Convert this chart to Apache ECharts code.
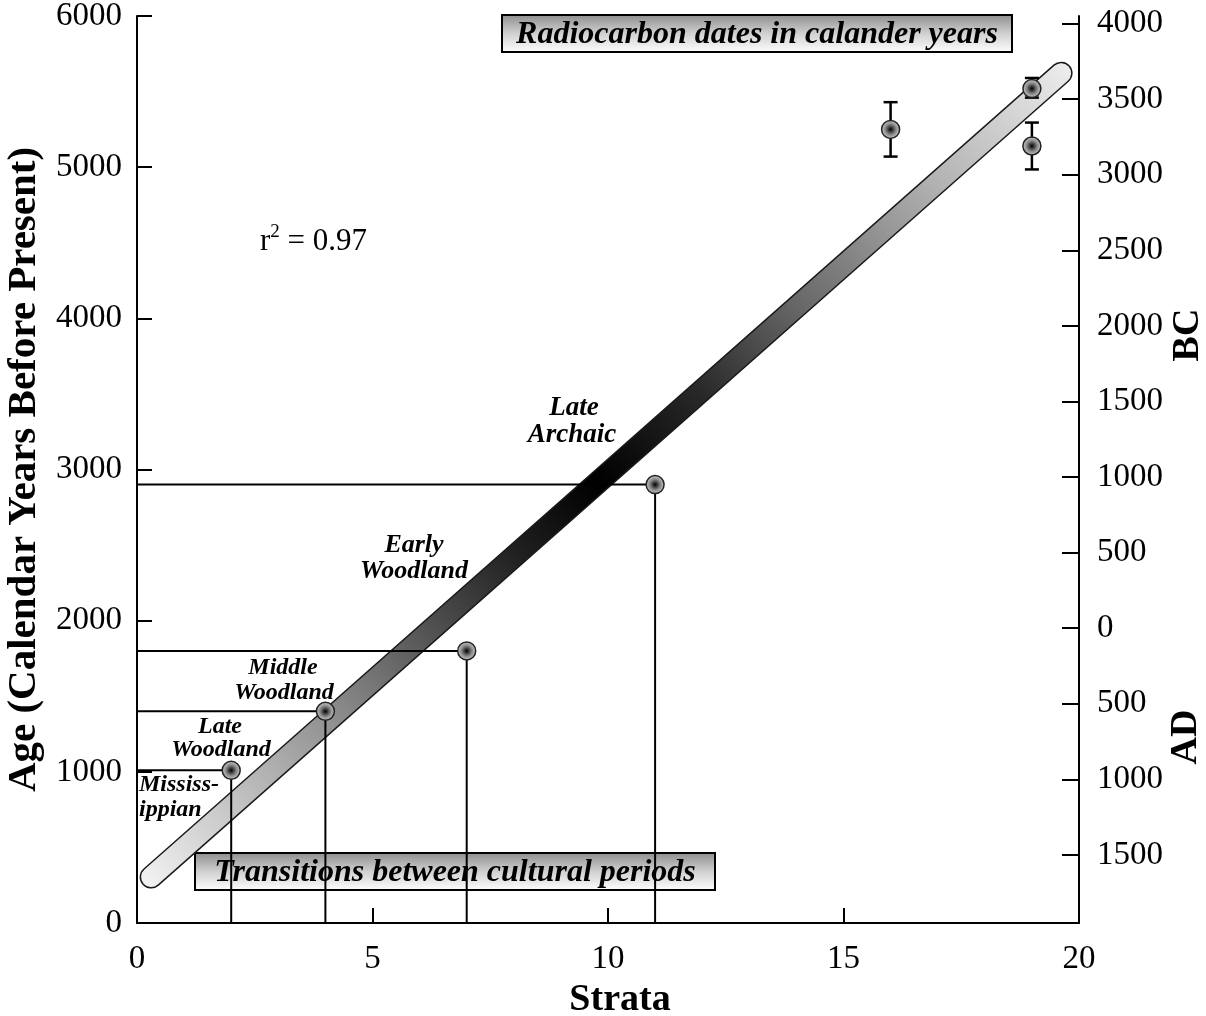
<!DOCTYPE html>
<html>
<head>
<meta charset="utf-8">
<script src="https://cdn.jsdelivr.net/npm/echarts@6/dist/echarts.min.js"></script>
<style>
html,body{margin:0;padding:0;background:#fff;}
#chart{width:1206px;height:1016px;}
</style>
</head>
<body>
<div id="chart"></div>
<script>
// ---- data ----
const transitionStrata = [2, 4, 7, 11];
const transitionAge = [1010, 1400, 1800, 2900];

const dateStrata = [16, 19, 19];
const dateAge = [5250, 5520, 5140];
const dateLow = [5070, 5460, 4985];
const dateHigh = [5430, 5590, 5295];

const fitStrata = [0.3, 19.62];
const fitAge = [304, 5622];

const xTicks = [0, 5, 10, 15, 20];
const leftTicks = [0, 1000, 2000, 3000, 4000, 5000, 6000];
const rightTicks = [-1500, -1000, -500, 0, 500, 1000, 1500, 2000, 2500, 3000, 3500, 4000];
const bpOffset = 1950;

const periodLabels = [
  {lines: ['Late', 'Archaic']},
  {lines: ['Early', 'Woodland']},
  {lines: ['Middle', 'Woodland']},
  {lines: ['Late', 'Woodland']},
  {lines: ['Mississ-', 'ippian']}
];

// ---- chart ----
const FONT = '"Liberation Serif", "Times New Roman", serif';
const chart = echarts.init(document.getElementById('chart'));

const fitData = fitStrata.map((x, i) => [x, fitAge[i]]);
const transData = transitionStrata.map((x, i) => [x, transitionAge[i]]);
const dateData = dateStrata.map((x, i) => [x, dateAge[i]]);
const errData = dateStrata.map((x, i) => [x, dateLow[i], dateHigh[i]]);

const tubeGrad = new echarts.graphic.LinearGradient(0, 1, 1, 0, [
  {offset: 0, color: '#f4f4f4'},
  {offset: 0.1, color: '#c4c4c4'},
  {offset: 0.2, color: '#929292'},
  {offset: 0.3, color: '#585858'},
  {offset: 0.4, color: '#222222'},
  {offset: 0.49, color: '#000000'},
  {offset: 0.6, color: '#282828'},
  {offset: 0.7, color: '#646464'},
  {offset: 0.85, color: '#b0b0b0'},
  {offset: 1, color: '#eeeeee'}
]);

const markerFill = {
  type: 'radial', x: 0.5, y: 0.5, r: 0.5,
  colorStops: [
    {offset: 0, color: '#000'},
    {offset: 0.2, color: '#333'},
    {offset: 0.55, color: '#8a8a8a'},
    {offset: 0.85, color: '#b8b8b8'},
    {offset: 1, color: '#a4a4a4'}
  ]
};

function boxGrad() {
  return new echarts.graphic.LinearGradient(0, 0, 0, 1, [
    {offset: 0, color: '#8c8c8c'},
    {offset: 0.5, color: '#d0d0d0'},
    {offset: 1, color: '#ffffff'}
  ]);
}

function box(x, y, w, h, text) {
  return {
    type: 'group', x: x, y: y, z: 100,
    children: [
      {type: 'rect', shape: {x: 0, y: 0, width: w, height: h},
       style: {fill: boxGrad(), stroke: '#000', lineWidth: 2}},
      {type: 'text', x: w / 2, y: h / 2 + 1,
       style: {text: text, fill: '#000', font: 'italic bold 32px ' + FONT,
               align: 'center', verticalAlign: 'middle',
               textAlign: 'center', textVerticalAlign: 'middle'}}
    ]
  };
}

function label(x, y, text, size, align) {
  return {
    type: 'text', x: x, y: y, z: 90,
    style: {text: text, fill: '#000', font: 'italic bold ' + size + 'px ' + FONT,
            align: align || 'center', verticalAlign: 'middle',
            textAlign: align || 'center', textVerticalAlign: 'middle'}
  };
}

// pixel positions for annotation texts
const labelPos = [
  [[574, 408], [572, 435], 27, 'center'],
  [[414, 545], [414, 571], 26, 'center'],
  [[283, 668], [284, 693], 24, 'center'],
  [[220, 727], [221, 750], 24, 'center'],
  [[139, 785], [139, 810], 24, 'left']
];

const graphics = [
  box(502, 15, 510, 37, 'Radiocarbon dates in calander years'),
  box(195, 853, 520, 37, 'Transitions between cultural periods'),
  {
    type: 'text', x: 260, y: 240, z: 90,
    style: {
      text: '{a|r}{s|2}{a| = 0.97}',
      fill: '#000',
      verticalAlign: 'middle', textVerticalAlign: 'middle',
      rich: {
        a: {fontFamily: FONT, fontSize: 31, lineHeight: 34, fill: '#000', verticalAlign: 'bottom'},
        s: {fontFamily: FONT, fontSize: 19, lineHeight: 34, fill: '#000', verticalAlign: 'top'}
      }
    }
  },
  {
    type: 'text', x: 1188, y: 335, rotation: Math.PI / 2, z: 90,
    style: {text: 'BC', fill: '#000', font: 'bold 38px ' + FONT,
            align: 'center', verticalAlign: 'middle', textAlign: 'center', textVerticalAlign: 'middle'}
  },
  {
    type: 'text', x: 1186, y: 737, rotation: Math.PI / 2, z: 90,
    style: {text: 'AD', fill: '#000', font: 'bold 38px ' + FONT,
            align: 'center', verticalAlign: 'middle', textAlign: 'center', textVerticalAlign: 'middle'}
  }
];
periodLabels.forEach((p, i) => {
  const pos = labelPos[i];
  graphics.push(label(pos[0][0], pos[0][1], p.lines[0], pos[2], pos[3]));
  graphics.push(label(pos[1][0], pos[1][1], p.lines[1], pos[2], pos[3]));
});

const axisLabelStyle = {color: '#000', fontFamily: FONT, fontSize: 33};

const option = {
  backgroundColor: '#fff',
  animation: false,
  grid: {left: 137, right: 127, top: 16, bottom: 93, containLabel: false, outerBoundsMode: 'none'},
  xAxis: {
    type: 'value', min: xTicks[0], max: xTicks[xTicks.length - 1], interval: 5,
    name: 'Strata', nameLocation: 'middle', nameGap: 58,
    nameTextStyle: {color: '#000', fontFamily: FONT, fontSize: 38, fontWeight: 'bold', padding: [0, 0, 0, 24]},
    axisLine: {show: true, onZero: false, lineStyle: {color: '#000', width: 2}},
    axisTick: {show: true, inside: true, length: 15, lineStyle: {color: '#000', width: 2}},
    axisLabel: Object.assign({margin: 20, formatter: v => String(v)}, axisLabelStyle),
    splitLine: {show: false}
  },
  yAxis: [
    {
      type: 'value', min: 0, max: 6000, interval: 1000, position: 'left',
      name: 'Age (Calendar Years Before Present)', nameLocation: 'middle', nameGap: 92, nameRotate: 90,
      nameTextStyle: {color: '#000', fontFamily: FONT, fontSize: 41, fontWeight: 'bold'},
      axisLine: {show: true, onZero: false, lineStyle: {color: '#000', width: 2}},
      axisTick: {show: true, inside: true, length: 15, lineStyle: {color: '#000', width: 2}},
      axisLabel: Object.assign({margin: 15, formatter: v => String(v)}, axisLabelStyle),
      splitLine: {show: false}
    },
    {
      type: 'value', min: 0 - bpOffset, max: 6000 - bpOffset, position: 'right',
      axisLine: {show: true, onZero: false, lineStyle: {color: '#000', width: 2}},
      axisTick: {show: true, inside: true, length: 17, customValues: rightTicks, lineStyle: {color: '#000', width: 2}},
      axisLabel: Object.assign({margin: 18, customValues: rightTicks, formatter: v => String(Math.abs(v))}, axisLabelStyle),
      splitLine: {show: false}
    }
  ],
  series: [
    {
      type: 'line', data: fitData, z: 1, silent: true, symbol: 'none',
      lineStyle: {color: '#1a1a1a', width: 23, cap: 'round'}
    },
    {
      type: 'line', data: fitData, z: 2, silent: true, symbol: 'none',
      lineStyle: {color: tubeGrad, width: 20, cap: 'round'}
    },
    {
      type: 'custom', z: 3, silent: true, data: transData,
      renderItem: function (params, api) {
        const x = api.value(0), y = api.value(1);
        return {
          type: 'polyline',
          shape: {points: [api.coord([0, y]), api.coord([x, y]), api.coord([x, 0])]},
          style: {stroke: '#000', lineWidth: 2, fill: null}
        };
      }
    },
    {
      type: 'custom', z: 4, silent: true, data: errData,
      renderItem: function (params, api) {
        const lo = api.coord([api.value(0), api.value(1)]);
        const hi = api.coord([api.value(0), api.value(2)]);
        const c = 7;
        const st = {stroke: '#000', lineWidth: 2.5};
        return {
          type: 'group',
          children: [
            {type: 'line', shape: {x1: lo[0], y1: lo[1], x2: hi[0], y2: hi[1]}, style: st},
            {type: 'line', shape: {x1: lo[0] - c, y1: lo[1], x2: lo[0] + c, y2: lo[1]}, style: st},
            {type: 'line', shape: {x1: hi[0] - c, y1: hi[1], x2: hi[0] + c, y2: hi[1]}, style: st}
          ]
        };
      }
    },
    {
      type: 'scatter', z: 5, silent: true, data: transData.concat(dateData),
      symbol: 'circle', symbolSize: 18,
      itemStyle: {color: markerFill, borderColor: '#222', borderWidth: 1.5, opacity: 1}
    }
  ],
  graphic: graphics
};
chart.setOption(option);
</script>
</body>
</html>
